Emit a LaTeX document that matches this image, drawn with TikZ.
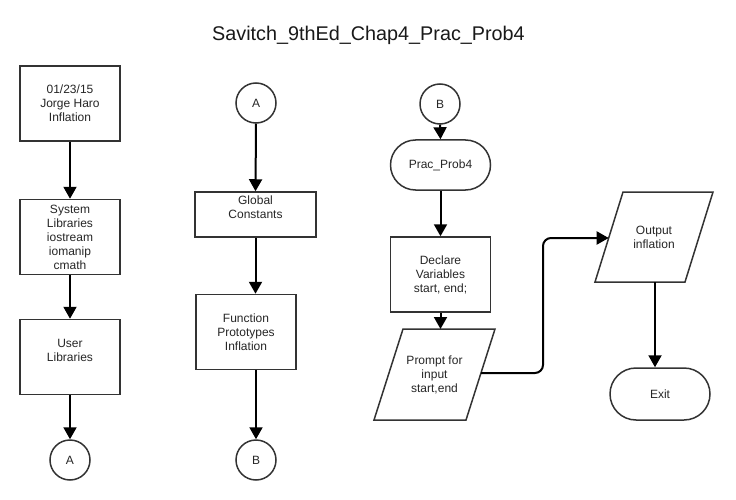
\documentclass[tikz,border=0pt]{standalone}
\usepackage{fontspec}
\setmainfont{Liberation Sans}
\usetikzlibrary{arrows.meta}
\begin{document}
\begin{tikzpicture}[x=1pt,y=-1pt,
  txt/.style={inner sep=0pt, align=center, font=\fontsize{12}{14}\selectfont, text=black!85},
  shp/.style={txt, draw=black!80, line width=1.5pt, fill=white},
  box/.style={shp, rectangle, minimum width=100pt, minimum height=75pt},
  conn/.style={shp, circle, minimum size=40pt},
  term/.style={shp, rectangle, rounded corners=25pt, minimum width=100pt, minimum height=50pt},
  outline/.style={draw=black!80, line width=1.5pt, fill=white, line join=miter},
  arr/.style={line width=2pt, -{Triangle[width=13pt,length=12pt]}}
]
\useasboundingbox[fill=white] (0,0) rectangle (736,500);

\node[anchor=base, font=\fontsize{19.8}{23}\selectfont, text=black!90] (title) at (368.5,41) {Savitch\_9thEd\_Chap4\_Prac\_Prob4};

% column 1
\node[box] (h) at (70,103.5) {01/23/15\\Jorge Haro\\Inflation};
\node[box] (sys) at (70,237) {System\\Libraries\\iostream\\iomanip\\cmath};
\node[box] (usr) at (70,357) {User\\Libraries\\~};
\node[conn] (a1) at (70,460) {A};

% column 2
\node[conn] (a2) at (256,103) {A};
\node[box, minimum width=121pt, minimum height=45pt] (gc) at (255.5,214.5) {Global\\Constants\\~};
\node[box] (fp) at (246,332) {Function\\Prototypes\\Inflation};
\node[conn] (b2) at (256,460) {B};

% column 3
\node[conn] (b3) at (440,104) {B};
\node[term] (main) at (440.5,165) {Prac\_Prob4};
\node[box] (decl) at (440.5,274.5) {Declare\\Variables\\start, end;};
\draw[outline] (403,329) -- (495,329) -- (466,420) -- (374,420) -- cycle;
\node[txt] (prompt) at (434.5,374.5) {Prompt for\\input\\start,end};
\coordinate (ptop) at (440.5,329);
\coordinate (pr) at (481,373);

% column 4
\draw[outline] (623,192) -- (713,192) -- (685,282) -- (595,282) -- cycle;
\node[txt] (out) at (654,237) {Output\\inflation};
\coordinate (ol) at (608.7,238);
\coordinate (obot) at (655,282);
\node[term, minimum height=52pt, rounded corners=26pt] (exit) at (660,394) {Exit};

% connectors
\draw[arr] (h.south) -- (sys.north);
\draw[arr] (sys.south) -- (usr.north);
\draw[arr] (usr.south) -- (a1.north);
\draw[arr] (a2.south) -- (gc.north);
\draw[arr] (gc.south) -- (gc.south |- fp.north);
\draw[arr] (fp.south -| b2.north) -- (b2.north);
\draw[arr] (b3.south) -- (main.north);
\draw[arr] (main.south) -- (decl.north);
\draw[arr] (decl.south) -- (ptop);
\draw[arr, rounded corners=8pt] (pr) -- ++(62,0) |- (ol);
\draw[arr] (obot) -- (obot |- exit.north);
\end{tikzpicture}
\end{document}
